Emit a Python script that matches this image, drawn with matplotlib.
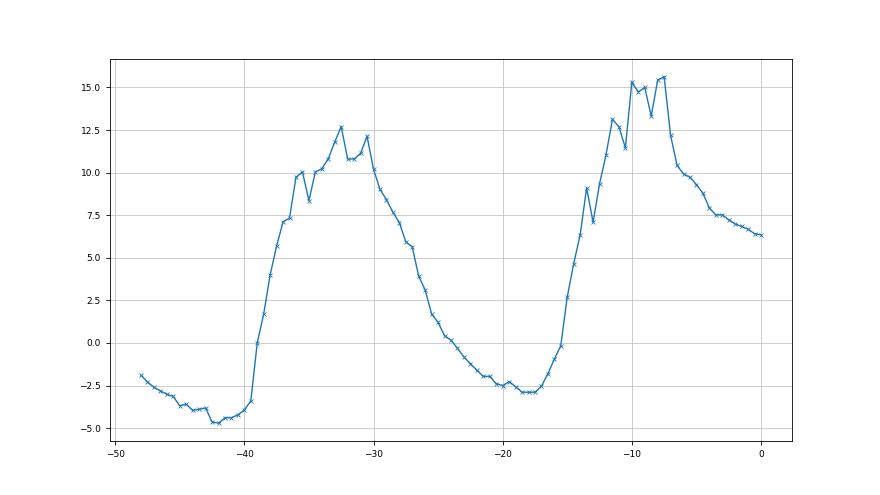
import matplotlib
matplotlib.use("Agg")
import matplotlib.pyplot as plt

# ---------------------------------------------------------------------------
# Data
# ---------------------------------------------------------------------------
X = [
    -48.0, -47.5, -47.0, -46.5, -46.0, -45.5, -45.0, -44.5, -44.0, -43.5,
    -43.0, -42.5, -42.0, -41.5, -41.0, -40.5, -40.0, -39.5, -39.0, -38.5,
    -38.0, -37.5, -37.0, -36.5, -36.0, -35.5, -35.0, -34.5, -34.0, -33.5,
    -33.0, -32.5, -32.0, -31.5, -31.0, -30.5, -30.0, -29.5, -29.0, -28.5,
    -28.0, -27.5, -27.0, -26.5, -26.0, -25.5, -25.0, -24.5, -24.0, -23.5,
    -23.0, -22.5, -22.0, -21.5, -21.0, -20.5, -20.0, -19.5, -19.0, -18.5,
    -18.0, -17.5, -17.0, -16.5, -16.0, -15.5, -15.0, -14.5, -14.0, -13.5,
    -13.0, -12.5, -12.0, -11.5, -11.0, -10.5, -10.0, -9.5, -9.0, -8.5,
    -8.0, -7.5, -7.0, -6.5, -6.0, -5.5, -5.0, -4.5, -4.0, -3.5,
    -3.0, -2.5, -2.0, -1.5, -1.0, -0.5, 0.0,
]
Y = [
    -1.89, -2.29, -2.60, -2.81, -3.01, -3.14, -3.69, -3.59, -3.96, -3.89,
    -3.81, -4.63, -4.71, -4.39, -4.39, -4.22, -3.93, -3.40, 0.00, 1.71,
    4.00, 5.70, 7.11, 7.34, 9.73, 10.04, 8.36, 10.04, 10.23, 10.82,
    11.80, 12.70, 10.80, 10.80, 11.13, 12.13, 10.21, 9.02, 8.42, 7.68,
    7.07, 5.94, 5.64, 3.91, 3.11, 1.70, 1.21, 0.43, 0.16, -0.31,
    -0.82, -1.21, -1.60, -1.96, -1.96, -2.39, -2.50, -2.27, -2.56, -2.89,
    -2.89, -2.89, -2.54, -1.80, -0.96, -0.15, 2.70, 4.66, 6.35, 9.10,
    7.09, 9.34, 11.04, 13.13, 12.70, 11.45, 15.31, 14.73, 15.00, 13.32,
    15.43, 15.63, 12.19, 10.43, 9.92, 9.73, 9.30, 8.79, 7.93, 7.52,
    7.52, 7.23, 6.99, 6.84, 6.68, 6.41, 6.35,
]

# ---------------------------------------------------------------------------
# Figure
# ---------------------------------------------------------------------------
fig, ax = plt.subplots(figsize=(8.8, 4.95), dpi=100)
ax.plot(X, Y, color="#1f77b4", linewidth=1.0, marker="x",
        markersize=3.5, markeredgewidth=0.6)
ax.grid(True, color="#c4c4c4", linewidth=0.6)
ax.tick_params(labelsize=6.5, length=3, width=0.6)
for spine in ax.spines.values():
    spine.set_linewidth(0.6)

plt.savefig("out.png", dpi=100)
